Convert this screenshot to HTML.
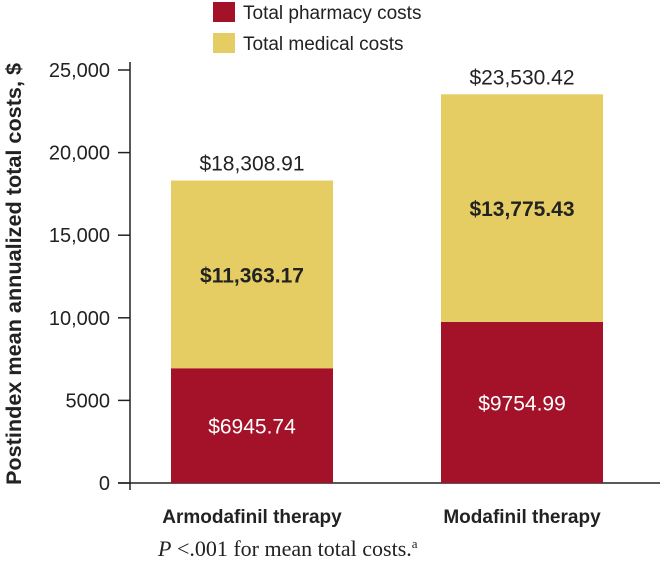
<!DOCTYPE html>
<html><head><meta charset="utf-8"><style>
body{margin:0;background:#fff;}
svg text{font-family:"Liberation Sans",sans-serif;}
svg text.serif{font-family:"Liberation Serif",serif;}
</style></head><body>
<svg width="667" height="566" viewBox="0 0 667 566">
<g>
<rect x="213" y="2" width="22" height="20" fill="#a31228"/>
<text x="243" y="19" font-size="19" fill="#222">Total pharmacy costs</text>
<rect x="213" y="33" width="22" height="20" fill="#e6cd63"/>
<text x="243" y="50" font-size="19" fill="#222">Total medical costs</text>
</g>
<g id="axis"></g>
<g id="bars"></g>
<text transform="translate(21,274) rotate(-90)" text-anchor="middle" font-size="21" font-weight="bold" fill="#222" textLength="422" lengthAdjust="spacingAndGlyphs">Postindex mean annualized total costs, $</text>
<text class="serif" x="158" y="556" font-size="22" fill="#222"><tspan font-style="italic">P</tspan> &lt;.001 for mean total costs.<tspan font-size="13" dy="-8">a</tspan></text>
</svg>
<script>
const categories=["Armodafinil therapy","Modafinil therapy"];
const pharmacy=[6945.74,9754.99];
const medical=[11363.17,13775.43];
const totals=[18308.91,23530.42];
const pharmacyLabels=["$6945.74","$9754.99"];
const medicalLabels=["$11,363.17","$13,775.43"];
const totalLabels=["$18,308.91","$23,530.42"];
const ticks=[0,5000,10000,15000,20000,25000];
const tickLabels=["0","5000","10,000","15,000","20,000","25,000"];
const NS="http://www.w3.org/2000/svg";
const y0=483,yTop=70,vmax=25000;
const y=v=>y0-(y0-yTop)*v/vmax;
const xc=i=>252+i*270, bw=162;
function mk(t,a,p){const e=document.createElementNS(NS,t);for(const k in a)e.setAttribute(k,a[k]);p.appendChild(e);return e;}
const ax=document.getElementById('axis'),bg=document.getElementById('bars');
let l=mk('line',{x1:130,y1:62,x2:130,y2:490,stroke:'#222','stroke-width':1.5},ax);


l=mk('line',{x1:118,y1:y0,x2:660,y2:y0,stroke:'#222','stroke-width':1.5},ax);


ticks.forEach((t,i)=>{
 const tk=mk('line',{x1:118,y1:y(t),x2:130,y2:y(t),stroke:'#222','stroke-width':1.5},ax);
 
 
 const tx=mk('text',{x:110,y:y(t)+7,'text-anchor':'end','font-size':20,fill:'#222'},ax);
 tx.textContent=tickLabels[i];
 
 
});
categories.forEach((c,i)=>{
 const x=xc(i)-bw/2;
 const r1=mk('rect',{x:x,y:y(pharmacy[i]),width:bw,height:y0-y(pharmacy[i]),fill:'#a31228'},bg);
 
 
 const r2=mk('rect',{x:x,y:y(pharmacy[i]+medical[i]),width:bw,height:y(pharmacy[i])-y(pharmacy[i]+medical[i]),fill:'#e6cd63'},bg);
 
 
 let t=mk('text',{x:xc(i),y:(y(pharmacy[i])+y0)/2+8,'text-anchor':'middle','font-size':21,fill:'#fff'},bg);
 t.textContent=pharmacyLabels[i];
 
 
 t=mk('text',{x:xc(i),y:(y(pharmacy[i])+y(pharmacy[i]+medical[i]))/2+8,'text-anchor':'middle','font-size':21,'font-weight':'bold',fill:'#222'},bg);
 t.textContent=medicalLabels[i];
 
 
 t=mk('text',{x:xc(i),y:y(totals[i])-10,'text-anchor':'middle','font-size':21,fill:'#222'},bg);
 t.textContent=totalLabels[i];
 
 
 t=mk('text',{x:xc(i),y:523,'text-anchor':'middle','font-size':19,'font-weight':'bold',fill:'#222'},bg);
 t.textContent=c;
 
 
});
</script>
</body></html>
